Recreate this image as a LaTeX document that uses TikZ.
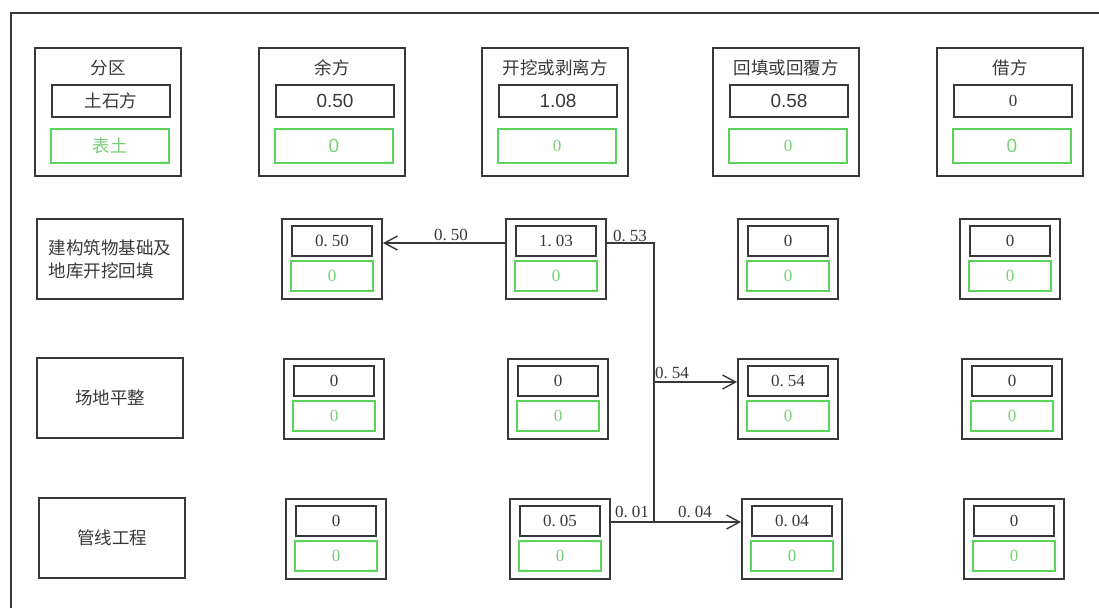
\documentclass[tikz,border=0pt]{standalone}
\usepackage{fontspec}
\setmainfont{Liberation Serif}
\newfontfamily\cjk{Noto Sans CJK SC}
\newfontfamily\numsans{Liberation Sans}
\usetikzlibrary{arrows.meta}
\definecolor{ink}{HTML}{383838}
\definecolor{grn}{HTML}{5AD45A}
\definecolor{grntxt}{HTML}{78D078}
\newcommand\zh{\cjk\fontsize{17.5}{23}\selectfont}
\newcommand\ns{\numsans\fontsize{19}{22}\selectfont}
\newcommand\nr{\rmfamily\fontsize{17}{20}\selectfont}
\newcommand\dd[2]{#1.\kern4pt#2}
\tikzset{
  outerbox/.style={draw=ink, line width=2pt, minimum width=146pt, minimum height=128pt, inner sep=0pt},
  hblack/.style={draw=ink, line width=2pt, minimum width=118pt, minimum height=32pt, inner sep=0pt, text=ink},
  hgreen/.style={draw=grn, line width=2pt, minimum width=118pt, minimum height=34pt, inner sep=0pt, text=grntxt},
  cellout/.style={draw=ink, line width=2pt, minimum width=100pt, minimum height=80pt, inner sep=0pt},
  cblack/.style={draw=ink, line width=2pt, minimum width=80pt, minimum height=30pt, inner sep=0pt, text=ink, font=\nr},
  cgreen/.style={draw=grn, line width=2pt, minimum width=82pt, minimum height=30pt, inner sep=0pt, text=grntxt, font=\nr},
  rowbox/.style={draw=ink, line width=2pt, minimum width=146pt, minimum height=80pt, inner sep=0pt, align=left, text=ink, font=\zh},
  title/.style={inner sep=0pt, text=ink, font=\zh},
  flow/.style={draw=ink, line width=1.4pt},
  arr/.style={flow, -{Straight Barb[length=13pt,width=14pt]}},
  lbl/.style={text=ink, font=\nr, inner sep=0pt}
}
\newcommand\headbox[6]{%
  \node[outerbox] (h#1) at (#2,#3) {};
  \node[title] (t#1) at (#2,#3-44) {#4};
  \node[hblack] (hb#1) at (#2+3,#3-11) {#5};
  \node[hgreen] (hg#1) at (#2+2,#3+34) {#6};
}
\newcommand\cellbox[5]{%
  \node[cellout] (c#1) at (#2,#3) {};
  \node[cblack] (b#1) at (#2,#3-18) {#4};
  \node[cgreen] (g#1) at (#2,#3+17) {#5};
}
\begin{document}
\begin{tikzpicture}[x=1pt,y=-1pt]
\useasboundingbox (0,0) rectangle (1099,608);
% frame
\coordinate (fa) at (11,608);
\coordinate (fb) at (11,13);
\coordinate (fc) at (1099,13);
\draw[ink, line width=2pt] (fa) -- (fb) -- (fc);
% header row
\headbox{1}{108}{112}{分区}{\zh 土石方}{\zh 表土}
\headbox{2}{332}{112}{余方}{\ns 0.50}{\ns 0}
\headbox{3}{555}{112}{开挖或剥离方}{\ns 1.08}{\nr 0}
\headbox{4}{786}{112}{回填或回覆方}{\ns 0.58}{\nr 0}
\headbox{5}{1010}{112}{借方}{\nr 0}{\ns 0}
% row labels
\node[rowbox] (r1) at (110,259) {建构筑物基础及\\地库开挖回填};
\node[rowbox] (r2) at (110,398) {场地平整};
\node[rowbox] (r3) at (112,538) {管线工程};
% row 1
\cellbox{12}{332}{259}{\dd{0}{50}}{0}
\cellbox{13}{556}{259}{\dd{1}{03}}{0}
\cellbox{14}{788}{259}{0}{0}
\cellbox{15}{1010}{259}{0}{0}
% row 2
\cellbox{22}{334}{399}{0}{0}
\cellbox{23}{558}{399}{0}{0}
\cellbox{24}{788}{399}{\dd{0}{54}}{0}
\cellbox{25}{1012}{399}{0}{0}
% row 3
\cellbox{32}{336}{539}{0}{0}
\cellbox{33}{560}{539}{\dd{0}{05}}{0}
\cellbox{34}{792}{539}{\dd{0}{04}}{0}
\cellbox{35}{1014}{539}{0}{0}
% connectors
\coordinate (j1) at (654,243);
\coordinate (j2) at (654,382);
\coordinate (j3) at (654,522);
\draw[arr] (c13.west |- j1) -- (c12.east |- j1);
\draw[flow] (c13.east |- j1) -- (j1) -- (j3);
\draw[arr] (j2) -- (c24.west |- j2);
\draw[flow] (c33.east |- j3) -- (j3);
\draw[arr] (j3) -- (c34.west |- j3);
% labels
\node[lbl] (l050) at (451,235) {\dd{0}{50}};
\node[lbl] (l053) at (630,236) {\dd{0}{53}};
\node[lbl] (l054) at (672,373) {\dd{0}{54}};
\node[lbl] (l001) at (632,512) {\dd{0}{01}};
\node[lbl] (l004) at (695,512) {\dd{0}{04}};
\end{tikzpicture}
\end{document}
